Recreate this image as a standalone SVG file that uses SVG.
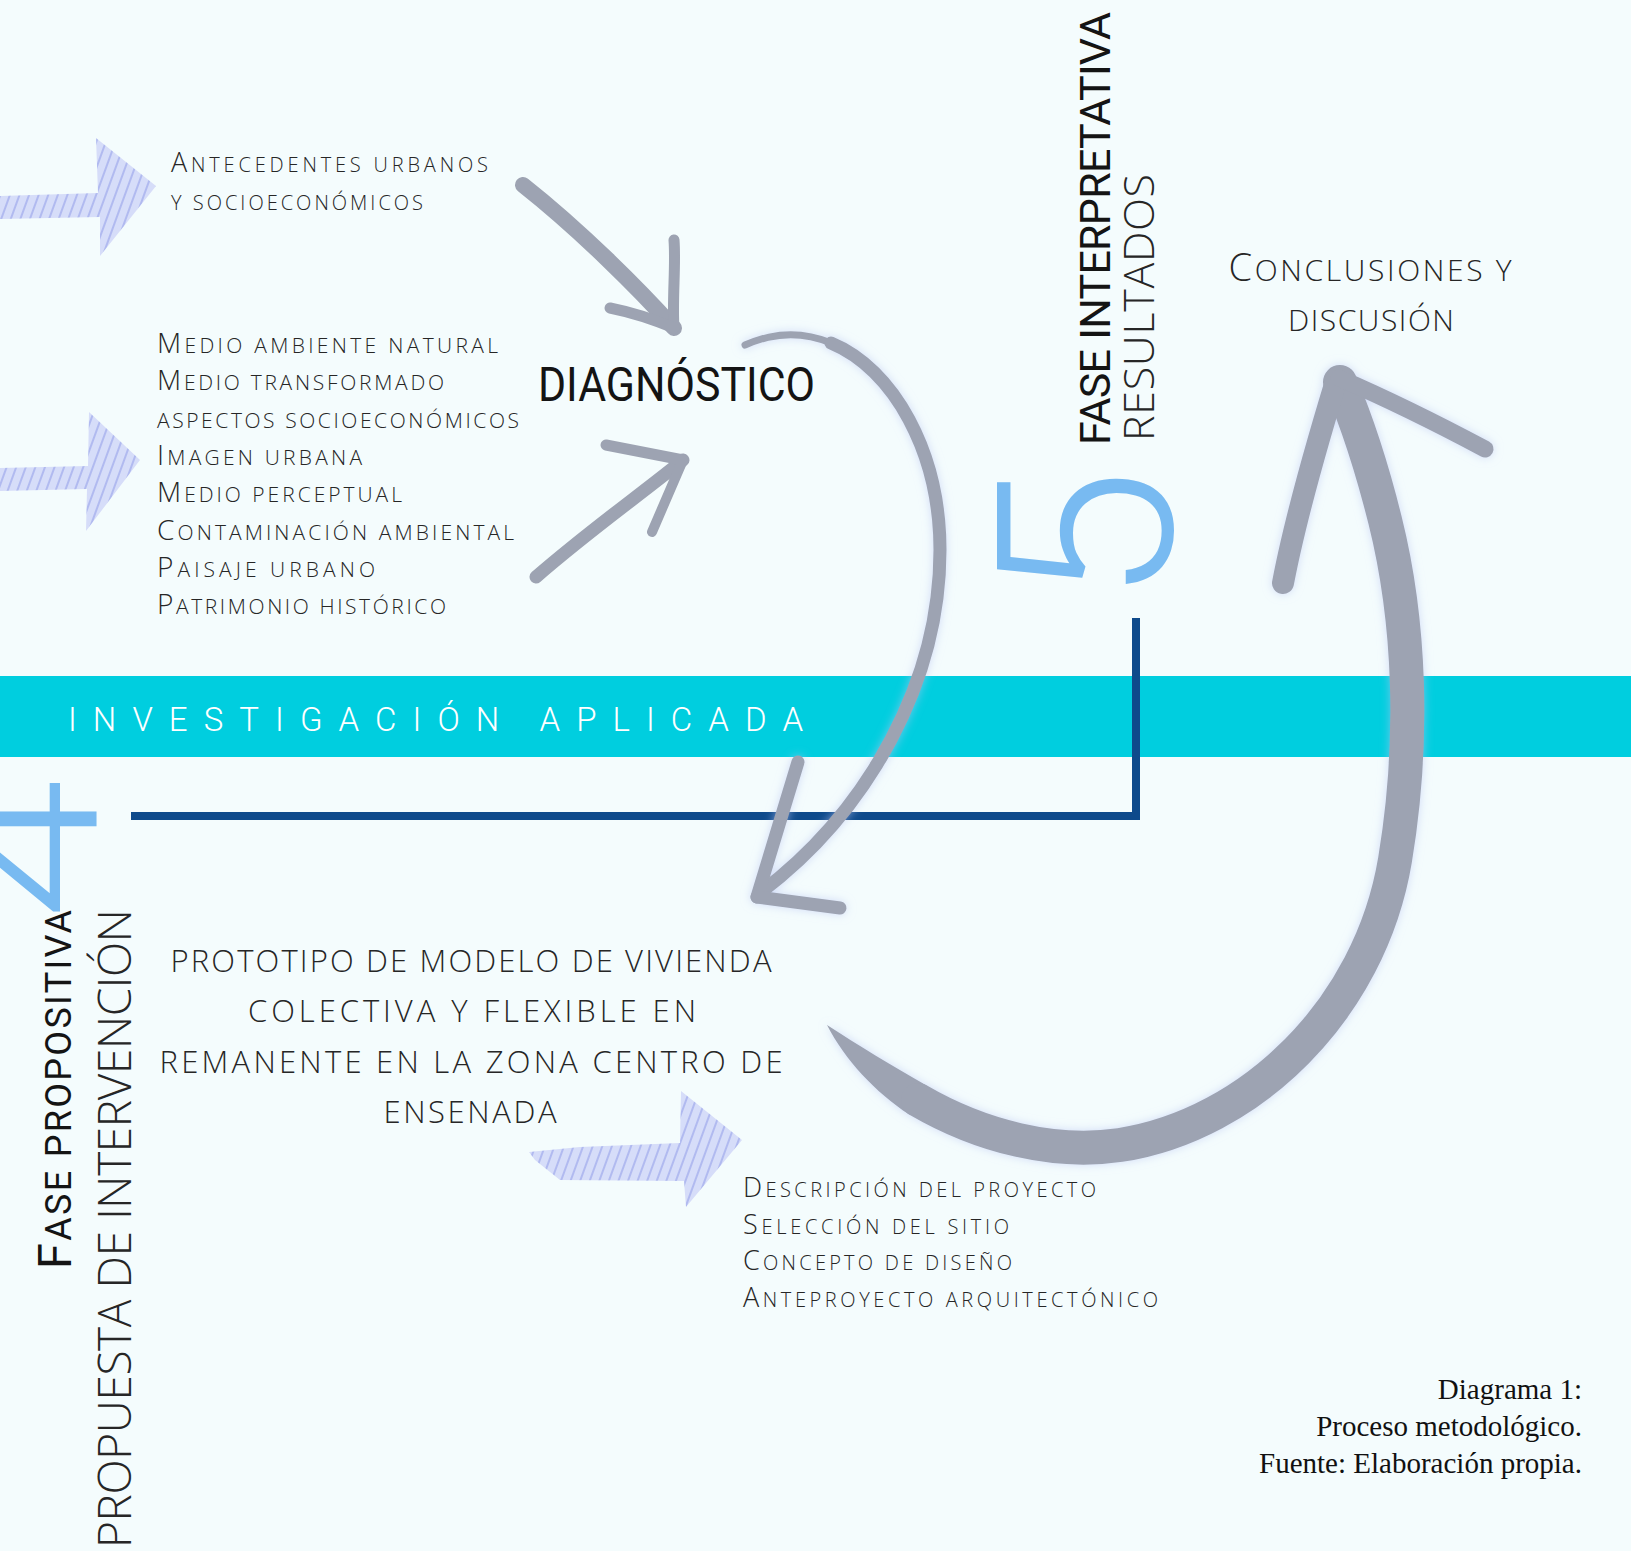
<svg xmlns="http://www.w3.org/2000/svg" width="1631" height="1551" viewBox="0 0 1631 1551">
<defs>
<style>
.t{font-family:'Open Sans',Roboto,'Liberation Sans',sans-serif;fill:#262626;font-weight:300}
.h{font-family:Roboto,'Liberation Sans',sans-serif;fill:#141414;font-weight:400}
.num{font-family:Roboto,'Liberation Sans',sans-serif;fill:#78BAF1;font-weight:300}
.cap{font-family:'Liberation Serif','Times New Roman',serif;fill:#111;font-size:29px}
.g{fill:none;stroke:#9DA3B2;stroke-linecap:round;stroke-linejoin:round}
.gf{fill:#9DA3B2}
.hatch{fill:url(#hp);opacity:0.9}
</style>
<pattern id="hp" patternUnits="userSpaceOnUse" width="9" height="9" patternTransform="rotate(20)">
<rect width="9" height="9" fill="#D3D9F8"/>
<line x1="4" y1="0" x2="4" y2="9" stroke="#A9B3EE" stroke-width="2"/>
</pattern>
<filter id="glow" x="-20%" y="-20%" width="140%" height="140%">
<feDropShadow dx="0" dy="0" stdDeviation="5" flood-color="#B9C4F2" flood-opacity="0.6"/>
</filter>
</defs>
<rect width="1631" height="1551" fill="#F4FCFD"/>

<g id="banda">
<rect x="0" y="676" width="1631" height="81" fill="#00CEDF"/>
<text x="68" y="731" font-family="Roboto,'Liberation Sans',sans-serif" font-weight="300" font-size="33" fill="#FFFFFF" textLength="735" lengthAdjust="spacing">INVESTIGACIÓN APLICADA</text>
</g>

<g id="connectors">
<!-- hatched input arrows -->
<path class="hatch" d="M0,196 L98,193 L96,138 L156,186 L100,256 L100,217 L0,219 Z"/>
<path class="hatch" d="M0,468 L88,466 L89,412 L140,460 L86,531 L87,489 L0,491 Z"/>
<path class="hatch" d="M529,1152 L580,1147 L680,1143 L681,1091 L742,1140 L686,1207 L684,1181 L560,1180 L535,1160 Z"/>
<!-- arrow A -->
<path class="g" stroke-width="16" d="M523,185 C580,230 640,290 674,328"/>
<path class="g" stroke-width="11" d="M674,328 C672,300 676,265 674,240"/>
<path class="g" stroke-width="11" d="M674,328 C655,320 630,312 610,308"/>
<!-- arrow B -->
<path class="g" stroke-width="13" d="M536,577 C590,530 640,495 683,460"/>
<path class="g" stroke-width="11" d="M683,460 L606,445"/>
<path class="g" stroke-width="10" d="M683,460 L652,532"/>
<!-- dark blue line -->
<path d="M131,816 L1136,816 L1136,618" fill="none" stroke="#0E4A8B" stroke-width="8"/>
<!-- arrow C -->
<g filter="url(#glow)">
<path class="g" stroke-width="7" d="M745,345 C775,331.5 804.55,331.95 831.2,343"/>
<path class="g" stroke-width="13" d="M831,343 C893.45,368.7 940,452 940,550 C940,680 870,810 760,893"/>
<path class="g" stroke-width="13" d="M757,897 L798,762"/>
<path class="g" stroke-width="13" d="M757,897 L840,908"/>
</g>
<!-- arrow D -->
<g filter="url(#glow)">
<path class="gf" d="M827,1025 C845,1060 875,1092 909.5,1114.8 L926.6,1085.4 C892,1066 858,1045 827,1025 Z"/>
<path class="g" stroke-width="34" d="M918,1100 C981.55,1137.04 1055,1154.75 1120,1145 C1250,1125 1370,1010 1395,860 C1415,740 1410,620 1385,520 C1370,460 1352,410 1340,382"/>
<path class="g" stroke-width="22" d="M1337,378 C1315,450 1295,520 1283,583"/>
<path class="g" stroke-width="17" d="M1339,378 C1390,400 1440,425 1485,449"/>
</g>
</g>

<g id="antecedentes">
<text class="t" x="171" y="172" font-size="20" textLength="317" lengthAdjust="spacing"><tspan font-size="27">A</tspan>NTECEDENTES URBANOS</text>
<text class="t" x="171" y="210" font-size="20" textLength="252" lengthAdjust="spacing">Y SOCIOECONÓMICOS</text>
</g>

<g id="factores">
<text class="t" x="157" y="353" font-size="21" textLength="341" lengthAdjust="spacing"><tspan font-size="28">M</tspan>EDIO AMBIENTE NATURAL</text>
<text class="t" x="157" y="390.3" font-size="21" textLength="287" lengthAdjust="spacing"><tspan font-size="28">M</tspan>EDIO TRANSFORMADO</text>
<text class="t" x="157" y="427.6" font-size="21" textLength="362" lengthAdjust="spacing">ASPECTOS SOCIOECONÓMICOS</text>
<text class="t" x="157" y="464.9" font-size="21" textLength="205" lengthAdjust="spacing"><tspan font-size="28">I</tspan>MAGEN URBANA</text>
<text class="t" x="157" y="502.2" font-size="21" textLength="245" lengthAdjust="spacing"><tspan font-size="28">M</tspan>EDIO PERCEPTUAL</text>
<text class="t" x="157" y="539.5" font-size="21" textLength="357" lengthAdjust="spacing"><tspan font-size="28">C</tspan>ONTAMINACIÓN AMBIENTAL</text>
<text class="t" x="157" y="576.8" font-size="21" textLength="218" lengthAdjust="spacing"><tspan font-size="28">P</tspan>AISAJE URBANO</text>
<text class="t" x="157" y="614" font-size="21" textLength="289" lengthAdjust="spacing"><tspan font-size="28">P</tspan>ATRIMONIO HISTÓRICO</text>
</g>

<g id="diagnostico">
<text class="h" x="538" y="401" font-size="48" textLength="277" lengthAdjust="spacingAndGlyphs">DIAGNÓSTICO</text>
</g>

<g id="fase5">
<text class="num" font-size="245" transform="translate(1172,604) rotate(-90)">5</text>
<text class="h" font-size="43" transform="translate(1110,445) rotate(-90)" textLength="433" lengthAdjust="spacing">FASE INTERPRETATIVA</text>
<text class="t" font-size="43" transform="translate(1154,441) rotate(-90)" textLength="267" lengthAdjust="spacing">RESULTADOS</text>
</g>

<g id="conclusiones">
<text class="t" x="1370" y="281" font-size="30" text-anchor="middle" textLength="283" lengthAdjust="spacing"><tspan font-size="38">C</tspan>ONCLUSIONES Y</text>
<text class="t" x="1371" y="331" font-size="30" text-anchor="middle" textLength="166" lengthAdjust="spacing">DISCUSIÓN</text>
</g>

<g id="fase4">
<text class="num" font-size="255" transform="translate(97,920) rotate(-90) scale(1,0.8)">4</text>
<text class="h" font-size="36" transform="translate(71,1269) rotate(-90)" textLength="359" lengthAdjust="spacing"><tspan font-size="47">F</tspan>ASE PROPOSITIVA</text>
<text class="t" font-size="46" transform="translate(131,1548) rotate(-90)" textLength="639" lengthAdjust="spacing">PROPUESTA DE INTERVENCIÓN</text>
</g>

<g id="prototipo">
<text class="t" x="471" y="972" font-size="31" text-anchor="middle" textLength="601" lengthAdjust="spacing">PROTOTIPO DE MODELO DE VIVIENDA</text>
<text class="t" x="472" y="1022" font-size="31" text-anchor="middle" textLength="448" lengthAdjust="spacing">COLECTIVA Y FLEXIBLE EN</text>
<text class="t" x="471" y="1073" font-size="31" text-anchor="middle" textLength="623" lengthAdjust="spacing">REMANENTE EN LA ZONA CENTRO DE</text>
<text class="t" x="470" y="1123" font-size="31" text-anchor="middle" textLength="173" lengthAdjust="spacing">ENSENADA</text>
</g>

<g id="pasos">
<text class="t" x="743" y="1197" font-size="20" textLength="353" lengthAdjust="spacing"><tspan font-size="27">D</tspan>ESCRIPCIÓN DEL PROYECTO</text>
<text class="t" x="743" y="1233.5" font-size="20" textLength="266" lengthAdjust="spacing"><tspan font-size="27">S</tspan>ELECCIÓN DEL SITIO</text>
<text class="t" x="743" y="1270" font-size="20" textLength="269" lengthAdjust="spacing"><tspan font-size="27">C</tspan>ONCEPTO DE DISEÑO</text>
<text class="t" x="743" y="1306.5" font-size="20" textLength="415" lengthAdjust="spacing"><tspan font-size="27">A</tspan>NTEPROYECTO ARQUITECTÓNICO</text>
</g>

<g id="caption">
<text class="cap" x="1582" y="1399" text-anchor="end">Diagrama 1:</text>
<text class="cap" x="1582" y="1436" text-anchor="end">Proceso metodológico.</text>
<text class="cap" x="1582" y="1473" text-anchor="end">Fuente: Elaboración propia.</text>
</g>
</svg>
